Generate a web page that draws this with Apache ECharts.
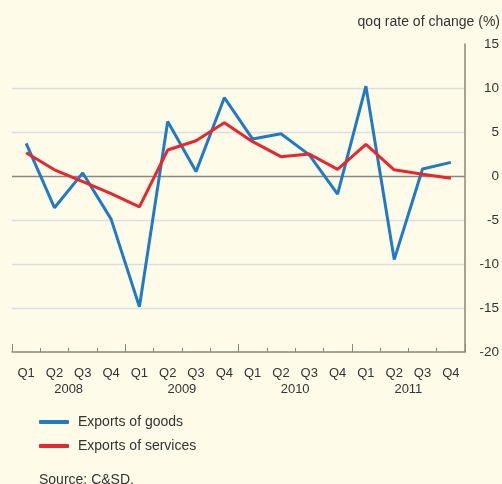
<!DOCTYPE html>
<html>
<head>
<meta charset="utf-8">
<script src="https://cdn.jsdelivr.net/npm/echarts@6/dist/echarts.min.js"></script>
<style>
  html, body { margin: 0; padding: 0; background: #fefbe9; }
  #chart { width: 502px; height: 484px; }
</style>
</head>
<body>
<div id="chart"></div>
<script>
// quarters and years on the x axis
const quarters = ['Q1', 'Q2', 'Q3', 'Q4', 'Q1', 'Q2', 'Q3', 'Q4', 'Q1', 'Q2', 'Q3', 'Q4', 'Q1', 'Q2', 'Q3', 'Q4']
const years = ['2008', '2009', '2010', '2011']

// qoq rate of change (%)
const goods = [3.7, -3.6, 0.35, -4.9, -14.85, 6.2, 0.5, 8.9, 4.2, 4.8, 2.4, -2.05, 10.2, -9.5, 0.8, 1.55]
const services = [2.65, 0.7, -0.65, -2.0, -3.5, 2.95, 4.0, 6.05, 3.9, 2.2, 2.5, 0.75, 3.6, 0.7, 0.2, -0.25]

const yTicks = { min: -20, max: 15, step: 5 }

const font = '"Liberation Sans", Arial, sans-serif'
const axisGray = '#8a877c'
const gridGray = '#dcdde0'
const textColor = '#333333'

const chart = echarts.init(document.getElementById('chart'))

// split line colours, one per tick from -20 up to 15 (zero line darker)
const splitColors = []
for (let v = yTicks.min; v <= yTicks.max; v += yTicks.step) {
  if (v === yTicks.min || v === yTicks.max) splitColors.push('rgba(0,0,0,0)')
  else if (v === 0) splitColors.push(axisGray)
  else splitColors.push(gridGray)
}

const option = {
  backgroundColor: '#fefbe9',
  animation: false,
  textStyle: { fontFamily: font },
  title: [
    {
      text: 'qoq rate of change (%)',
      right: 2,
      top: 15,
      padding: 0,
      textStyle: { fontFamily: font, fontSize: 14, fontWeight: 'normal', color: textColor }
    },
    {
      text: 'Source: C&SD.',
      left: 39,
      top: 473,
      padding: 0,
      textStyle: { fontFamily: font, fontSize: 14, fontWeight: 'normal', color: textColor }
    }
  ],
  legend: {
    orient: 'vertical',
    left: 39,
    top: 415,
    padding: 0,
    itemWidth: 30,
    itemHeight: 4,
    itemGap: 10,
    icon: 'roundRect',
    textStyle: { fontFamily: font, fontSize: 14, color: textColor, padding: [0, 0, 0, 4] },
    data: ['Exports of goods', 'Exports of services']
  },
  grid: { left: 12, right: 35, top: 44, bottom: 132 },
  xAxis: [
    {
      type: 'category',
      data: quarters,
      boundaryGap: true,
      axisLine: { show: true, onZero: false, lineStyle: { color: axisGray, width: 1.5 } },
      axisTick: { show: true, inside: true, length: 4, lineStyle: { color: axisGray, width: 1 } },
      axisLabel: { interval: 0, margin: 15, fontFamily: font, fontSize: 13, color: textColor },
      splitLine: { show: false }
    },
    {
      type: 'category',
      data: years,
      position: 'bottom',
      boundaryGap: true,
      axisLine: { show: false, onZero: false },
      axisTick: { show: true, inside: true, length: 8, lineStyle: { color: axisGray, width: 1 } },
      axisLabel: { interval: 0, margin: 31, fontFamily: font, fontSize: 13, color: textColor },
      splitLine: { show: false }
    }
  ],
  yAxis: {
    type: 'value',
    position: 'right',
    min: yTicks.min,
    max: yTicks.max,
    interval: yTicks.step,
    axisLine: { show: true, lineStyle: { color: axisGray, width: 1.5 } },
    axisTick: { show: false },
    axisLabel: { align: 'right', margin: 34, fontFamily: font, fontSize: 13.5, color: textColor },
    splitLine: { show: true, lineStyle: { color: splitColors, width: 1.3 } }
  },
  series: [
    {
      name: 'Exports of goods',
      type: 'line',
      data: goods,
      symbol: 'none',
      color: '#1f7bc4',
      lineStyle: { width: 3, color: '#1f7bc4' },
      z: 3
    },
    {
      name: 'Exports of services',
      type: 'line',
      data: services,
      symbol: 'none',
      color: '#e8262f',
      lineStyle: { width: 3, color: '#e8262f' },
      z: 4
    }
  ]
}

chart.setOption(option)
</script>
</body>
</html>
